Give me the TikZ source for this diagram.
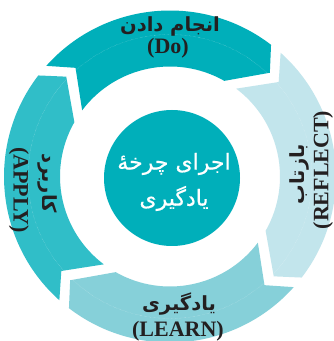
\documentclass[tikz,border=0pt]{standalone}
\usepackage{fontspec}
\setmainfont{Liberation Serif}
\newfontfamily\fa[Script=Arabic]{DejaVu Sans}
\newfontfamily\fasemi[Script=Arabic,FakeBold=0.6]{DejaVu Sans}
\TeXXeTstate=1
\definecolor{cdo}{HTML}{00AFBA}
\definecolor{cref}{HTML}{C2E5EC}
\definecolor{clearn}{HTML}{86D0D9}
\definecolor{capply}{HTML}{30BEC8}
\definecolor{ink}{HTML}{231F20}
\tikzset{
  guide/.style={white, opacity=0.6, line width=0.3pt, densely dotted},
  fatext/.style={font=\fa\bfseries\fontsize{19.5}{22}\selectfont, text=ink, inner sep=0pt},
  entext/.style={font=\bfseries\fontsize{22}{24}\selectfont, text=ink, inner sep=0pt},
}
\begin{document}
\begin{tikzpicture}[x=1pt,y=1pt]
\useasboundingbox (0,0) rectangle (334,341);
\fill[white] (0,0) rectangle (334,341);
\begin{scope}[shift={(170,164.5)}]
\foreach \rot/\col in {0/cdo,-90/cref,-180/clearn,90/capply}{
  \begin{scope}[rotate=\rot]
    \fill[\col] (138.2:166) arc[start angle=138.2,end angle=52.5,radius=166]
      -- (46.1:144) -- (60.4:110) arc[start angle=60.4,end angle=143,radius=110]
      -- (131:144) -- cycle;
    \draw[guide] (131:142) arc[start angle=131,end angle=46.1,radius=142];
  \end{scope}
}
\end{scope}
\node[circle, fill=cdo, minimum size=136pt, inner sep=0pt] (hub) at (172,163) {};
\node[font=\fasemi\fontsize{22}{36}\selectfont, text=white, align=center, inner sep=0pt] (hubtext) at (174,159) {\beginR اجرای چرخهٔ\endR\\\beginR یادگیری\endR};
\node[fatext] (doFa) at (170,315) {\beginR انجام دادن\endR};
\node[entext] (doEn) at (168,293) {(Do)};
\node[fatext] (learnFa) at (179,37) {\beginR یادگیری\endR};
\node[entext] (learnEn) at (178,10) {(LEARN)};
\node[fatext, rotate=90] (reflFa) at (299,167) {\beginR بازتاب\endR};
\node[entext, rotate=90] (reflEn) at (323,171) {(REFLECT)};
\node[fatext, rotate=-90] (applyFa) at (48,158) {\beginR کاربرد\endR};
\node[entext, rotate=-90] (applyEn) at (19,151) {(APPLY)};
\end{tikzpicture}
\end{document}
